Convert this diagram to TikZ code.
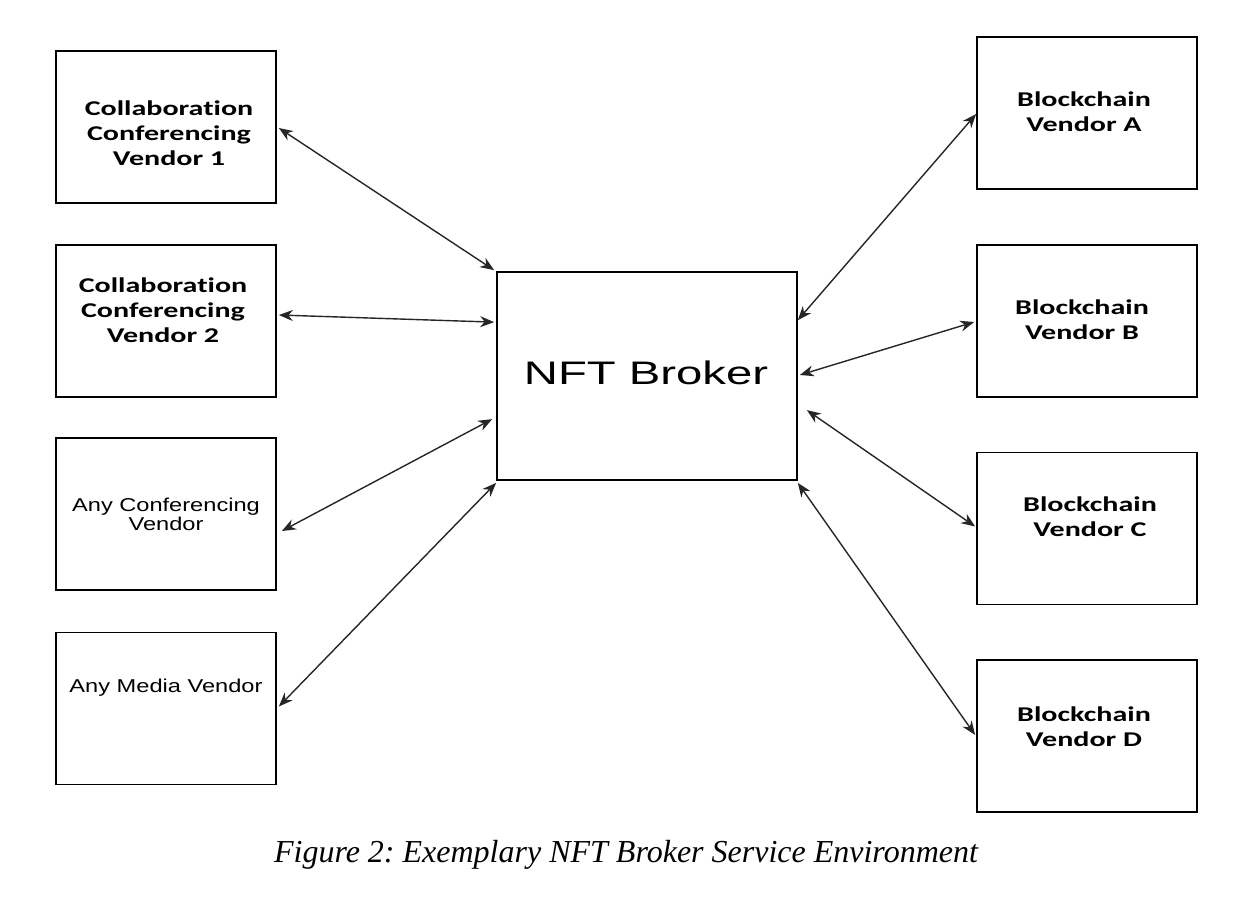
\documentclass[tikz,border=0pt]{standalone}
\usepackage{fontspec}
\setmainfont{Liberation Serif}
\newfontfamily\calb[FakeStretch=1.43,Ligatures={NoCommon}]{Carlito}
\newfontfamily\ars[FakeStretch=1.27]{Liberation Sans}
\newfontfamily\arb[FakeStretch=1.45]{Liberation Sans}
\usetikzlibrary{arrows.meta,calc}
\frenchspacing
\begin{document}
\begin{tikzpicture}[x=1bp,y=-1bp,
  box/.style={draw, line width=1.7bp, minimum width=220bp, minimum height=152bp, inner sep=0pt},
  bigbox/.style={draw, line width=1.7bp, minimum width=300bp, minimum height=208bp, inner sep=0pt},
  caltext/.style={align=center, inner sep=0pt, font=\calb\bfseries\fontsize{21bp}{25bp}\selectfont},
  artext/.style={align=center, inner sep=0pt, font=\ars\fontsize{18.6bp}{19bp}\selectfont},
  link/.style={{Stealth[length=14bp,width=11bp]}-{Stealth[length=14bp,width=11bp]}, line width=1.4bp, draw=black!85}]
\useasboundingbox (0,0) rectangle (1259,899);
% left boxes
\node[box] (c1) at (166,127) {};
\node[box] (c2) at (166,321) {};
\node[box] (c3) at (166,514) {};
\node[box] (c4) at (166,708.5) {};
% right boxes
\node[box] (bA) at (1087,113) {};
\node[box] (bB) at (1087,321) {};
\node[box] (bC) at (1087,528.5) {};
\node[box] (bD) at (1087,736) {};
% centre
\node[bigbox] (nft) at (647,376) {};
% texts
\node[caltext] (t1) at (169,133) {Collaboration\\Conferencing\\Vendor 1};
\node[caltext] (t2) at (163,310) {Collaboration\\Conferencing\\Vendor 2};
\node[artext] (t3) at (166,514) {Any Conferencing\\Vendor};
\node[artext] (t4) at (166,688) {Any Media Vendor};
\node[caltext] (tA) at (1084,112) {Blockchain\\Vendor A};
\node[caltext] (tB) at (1082,320) {Blockchain\\Vendor B};
\node[caltext] (tC) at (1090,517) {Blockchain\\Vendor C};
\node[caltext] (tD) at (1084,727) {Blockchain\\Vendor D};
\node[inner sep=0pt, font=\arb\fontsize{32.6bp}{36bp}\selectfont] (tn) at (646,373) {NFT Broker};
\node[anchor=base, inner sep=0pt, font=\itshape\fontsize{32bp}{36bp}\selectfont] (cap) at (626,862) {Figure 2: Exemplary NFT Broker Service Environment};
% connectors
\draw[link] ($(c1.east)+(2,1)$) -- ($(nft.north west)+(-2,-1)$);
\draw[link] ($(c2.east)+(2,-6)$) -- ($(nft.north west)+(-2,51)$);
\draw[link] ($(c3.east)+(5,17)$) -- ($(nft.north west)+(-4,148)$);
\draw[link] ($(c4.east)+(2,-2)$) -- ($(nft.south west)+(0,2)$);
\draw[link] ($(nft.north east)+(0,49)$) -- ($(bA.west)+(0,1)$);
\draw[link] ($(nft.east)+(2,-1)$) -- ($(bB.west)+(-2,1)$);
\draw[link] ($(nft.north east)+(9,139)$) -- ($(bC.west)+(-1,-2)$);
\draw[link] ($(nft.south east)+(0,2)$) -- ($(bD.west)+(-1,-1)$);
\end{tikzpicture}
\end{document}
